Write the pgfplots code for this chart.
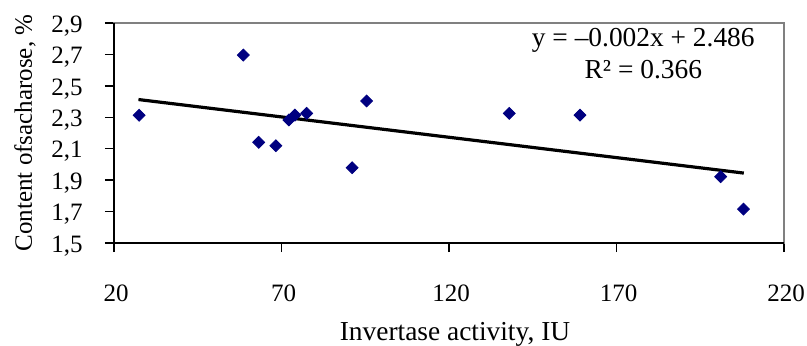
\documentclass[border=0pt]{standalone}
\usepackage{fontspec}
\setmainfont{Liberation Serif}
\usepackage{pgfplots}
\pgfplotsset{compat=1.18}
\definecolor{navyblue}{RGB}{0,0,128}
\definecolor{framegray}{RGB}{128,128,128}
\begin{document}
\begin{tikzpicture}
\begin{axis}[
  name=ax,
  at={(0,0)}, anchor=south west,
  scale only axis,
  width=335pt, height=110pt,
  xmin=20, xmax=220, ymin=1.5, ymax=2.9,
  xtick={20,70,120,170,220},
  ytick={1.5,1.7,1.9,2.1,2.3,2.5,2.7,2.9},
  xtick pos=bottom, ytick pos=left,
  tick align=outside,
  major tick length=4.5pt,
  tick style={black, line width=0.7pt},
  axis line style={framegray, line width=0.6pt},
  /pgf/number format/assume math mode=true,
  yticklabel style={/pgf/number format/fixed, /pgf/number format/fixed zerofill, /pgf/number format/precision=1, /pgf/number format/use comma},
  xticklabel style={/pgf/number format/fixed, /pgf/number format/precision=0},
  tick label style={font=\fontsize{12.5}{15}\selectfont, inner sep=0pt},
  xticklabel style={anchor=base, yshift=-24.8pt, xshift=1pt},
  yticklabel style={anchor=base east, xshift=-11pt, yshift=-4.6pt},
  xlabel={Invertase activity, IU},
  ylabel={Content ofsacharose, \%},
  xlabel style={font=\fontsize{13.7}{16}\selectfont, at={(axis description cs:0.5,0)}, anchor=base, yshift=-48.5pt, xshift=3pt, inner sep=0pt},
  ylabel style={font=\fontsize{12.5}{15}\selectfont, at={(axis description cs:0,0.5)}, anchor=center, yshift=44.5pt, inner sep=0pt},
  clip=false,
]
\addplot[only marks, mark=square*, mark size=2.1pt,
  mark options={rotate=45, fill=navyblue, draw=navyblue}]
coordinates {
  (27.5,2.313) (58.6,2.696) (63.2,2.141) (68.3,2.119) (72.2,2.283)
  (74.0,2.314) (77.5,2.325) (91.1,1.979) (95.4,2.404) (138.0,2.325)
  (159.1,2.314) (201.1,1.922) (207.9,1.716)
};
\addplot[black, line width=1.6pt] coordinates {(27.3,2.413) (208.0,1.945)};
\draw[black, line width=0.8pt] (rel axis cs:0,1) -- (rel axis cs:0,0) -- (rel axis cs:1,0);
\node[font=\fontsize{13.7}{16}\selectfont, align=center, anchor=center] at (axis cs:178,2.705)
  {y = –0.002x + 2.486\\R² = 0.366};
\end{axis}
\pgfresetboundingbox
\path[use as bounding box] (-57pt,-51pt) rectangle (346.5pt,121.5pt);
\end{tikzpicture}
\end{document}
